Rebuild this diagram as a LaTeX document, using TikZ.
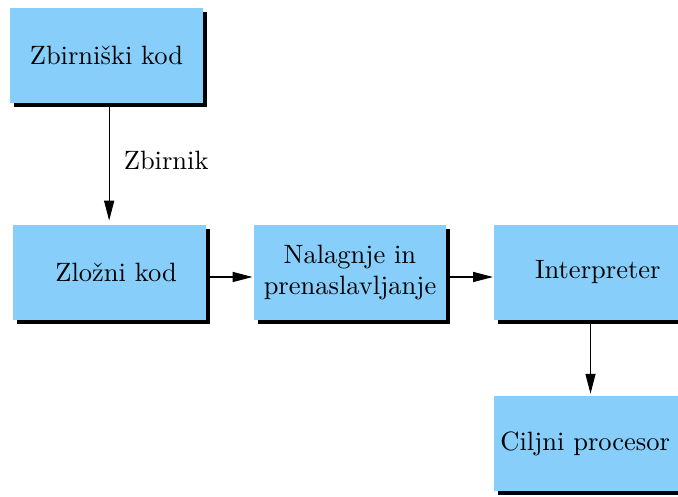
\documentclass[tikz,border=0pt]{standalone}
\usepackage{tikz}
\usetikzlibrary{shadows,arrows.meta}
\definecolor{nebo}{RGB}{135,206,250}
\tikzstyle{blok} = [fill=nebo, rectangle, minimum width=72.8pt, minimum height=35.8pt, inner sep=2pt, align=center, drop shadow={shadow xshift=1.5pt, shadow yshift=-1.5pt, fill=black, opacity=1}]
\tikzstyle{puscica} = [-{Triangle[length=7.5pt,width=3.8pt]}, thin]

\begin{document}
\begin{tikzpicture}[x=0.3774pt, y=-0.3774pt]
	\useasboundingbox (0,0) rectangle (678,497);
	\node[blok] (zbirni) at (106.5,55.5) {Zbirniški kod};
	\node[blok] (zlozni) at (109.5,272.5) {\hspace*{5pt}Zložni kod};
	\node[blok] (nalaganje) at (350,272.5) {Nalagnje in\\prenaslavljanje};
	\node[blok] (interp) at (590.5,272.5) {\hspace*{5.5pt}Interpreter};
	\node[blok] (procesor) at (590.5,443.5) {Ciljni procesor\hspace*{4pt}};
	\draw[puscica, shorten >=1.5pt] ([xshift=1pt]zbirni.south) -- node[right=2pt, yshift=1.5pt] {Zbirnik} ([xshift=1pt]zbirni.south |- zlozni.north);
	\draw[puscica] ([yshift=-1.7pt]zlozni.east) -- ([yshift=-1.7pt,xshift=-0.2pt]nalaganje.west);
	\draw[puscica] ([yshift=-1.7pt]nalaganje.east) -- ([yshift=-1.7pt,xshift=-0.2pt]interp.west);
	\draw[puscica] (interp.south) -- ([yshift=0.7pt]procesor.north);
\end{tikzpicture}
\end{document}
